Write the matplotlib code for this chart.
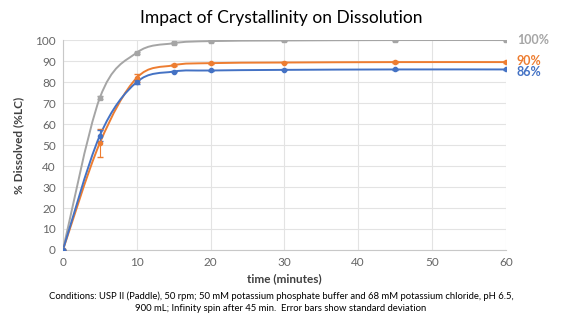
import numpy as np
import matplotlib.pyplot as plt
from matplotlib.path import Path
from matplotlib.patches import PathPatch

plt.rcParams['font.family'] = ['Lato', 'DejaVu Sans']

time = [0, 5, 10, 15, 20, 30, 45, 60]
cryst_100 = [0, 72.5, 94, 98.5, 99.5, 99.8, 100, 100]
cryst_90 = [0, 51, 82, 88, 89, 89.3, 89.5, 89.5]
cryst_86 = [0, 54.5, 80, 85, 85.5, 85.8, 86, 86]
err_90 = [0, 6.5, 2, 0.5, 0.3, 0.3, 0.3, 0.3]
err_86 = [0, 2.5, 1, 0.4, 0.3, 0.3, 0.3, 0.3]
err_100 = [0, 0.8, 0.5, 0.5, 0.3, 0.3, 0.3, 0.3]
end_labels = ['100%', '90%', '86%']

c_gray = '#A5A5A5'
c_orange = '#ED7D31'
c_blue = '#4472C4'


def smooth_path(x, y, k=1/6):
    # excel-like smoothed line (catmull-rom as bezier)
    x = np.asarray(x, float)
    y = np.asarray(y, float)
    verts = [(x[0], y[0])]
    codes = [Path.MOVETO]
    n = len(x)
    for i in range(n - 1):
        p0 = i - 1 if i > 0 else i
        p3 = i + 2 if i + 2 < n else i + 1
        c1 = (x[i] + (x[i + 1] - x[p0]) * k, y[i] + (y[i + 1] - y[p0]) * k)
        c2 = (x[i + 1] - (x[p3] - x[i]) * k, y[i + 1] - (y[p3] - y[i]) * k)
        verts += [c1, c2, (x[i + 1], y[i + 1])]
        codes += [Path.CURVE4] * 3
    return Path(verts, codes)


fig = plt.figure(figsize=(5.62, 3.27), dpi=100)
ax = fig.add_axes([0.112, 0.2355, 0.788, 0.642])

series = [(cryst_100, err_100, c_gray, 's'),
          (cryst_90, err_90, c_orange, 'o'),
          (cryst_86, err_86, c_blue, 'o')]
for vals, err, col, mk in series:
    ax.add_patch(PathPatch(smooth_path(time, vals), fill=False, edgecolor=col, lw=1.4, zorder=3))
    ax.errorbar(time, vals, yerr=err, fmt=mk, color=col, ms=3, ecolor=col,
                elinewidth=0.8, capsize=2, zorder=4)

ax.set_xlim(0, 60)
ax.set_ylim(0, 100)
ax.set_xticks(range(0, 61, 10))
ax.set_yticks(range(0, 101, 10))
ax.grid(True, color='#E3E3E3', lw=0.8)
ax.set_axisbelow(True)
for s in ['top', 'right']:
    ax.spines[s].set_visible(False)
for s in ['left', 'bottom']:
    ax.spines[s].set_color('#C8C8C8')
ax.tick_params(length=0, labelsize=8.5, colors='#666666', pad=5)

ax.set_xlabel('time (minutes)', fontsize=8.5, fontweight='bold', color='#404040', labelpad=4)
ax.set_ylabel('% Dissolved (%LC)', fontsize=8.5, fontweight='bold', color='#404040', labelpad=8)

label_y = [cryst_100[-1], cryst_90[-1] + 0.5, cryst_86[-1] - 1.2]
for txt, yv, col in zip(end_labels, label_y, [c_gray, c_orange, c_blue]):
    ax.annotate(txt, xy=(60, yv), xytext=(8, 0), textcoords='offset points',
                va='center', ha='left', fontsize=9, fontweight='bold', color=col,
                annotation_clip=False)

fig.text(0.5, 0.945, 'Impact of Crystallinity on Dissolution', ha='center', va='center',
         fontsize=12.5, color='#000000')
fig.text(0.5, 0.075, 'Conditions: USP II (Paddle), 50 rpm; 50 mM potassium phosphate buffer and 68 mM potassium chloride, pH 6.5,\n'
         '900 mL; Infinity spin after 45 min.  Error bars show standard deviation',
         ha='center', va='center', fontsize=6.8, color='#000000', linespacing=1.5)

fig.savefig('out.png', dpi=100)
